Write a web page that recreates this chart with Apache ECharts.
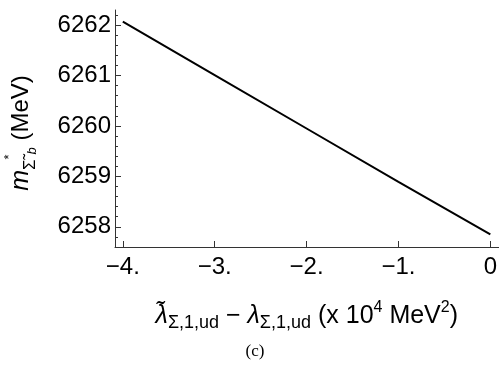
<!DOCTYPE html>
<html>
<head>
<meta charset="utf-8">
<script src="https://cdn.jsdelivr.net/npm/echarts@6/dist/echarts.min.js"></script>
<style>
  html, body { margin: 0; padding: 0; background: #fff; }
  #chart { width: 500px; height: 369px; }
</style>
</head>
<body>
<div id="chart"></div>
<script>
// data
const lambdaDiff = [-4, -3, -2, -1, 0];
const massValues = [6262.07, 6261.01, 6259.95, 6258.89, 6257.85];

// tick labels
const xTicks = [-4, -3, -2, -1, 0];
const xTickLabels = ['\u22124.', '\u22123.', '\u22122.', '\u22121.', '0'];
const yTicks = [6258, 6259, 6260, 6261, 6262];
const yMinorTicks = [];
for (let v = 62576; v <= 62622; v += 2) yMinorTicks.push(v / 10);

const axisColor = '#333';
const font = '"Liberation Sans", Arial, sans-serif';

const chart = echarts.init(document.getElementById('chart'));

const option = {
  animation: false,
  grid: { left: 115, right: 0, top: 10, bottom: 122 },
  xAxis: {
    type: 'value',
    min: -4.085,
    max: 0.09,
    axisLine: { show: true, onZero: false, lineStyle: { color: axisColor, width: 1 } },
    axisTick: { show: true, inside: true, length: 6, customValues: xTicks, lineStyle: { color: axisColor } },
    axisLabel: {
      customValues: xTicks,
      margin: 8,
      color: '#000',
      fontFamily: font,
      fontSize: 24,
      formatter: v => xTickLabels[xTicks.indexOf(Math.round(v))]
    },
    splitLine: { show: false },
    name: '{it|\u03BB\u0303}{sub|\u03A3,1,ud} \u2212 {it|\u03BB}{sub|\u03A3,1,ud} (x 10{sup|4} MeV{sup|2})',
    nameLocation: 'middle',
    nameGap: 53,
    nameTextStyle: {
      color: '#000',
      fontFamily: font,
      fontSize: 25,
      lineHeight: 32,
      rich: {
        it: { fontFamily: font, fontSize: 25, fontStyle: 'italic', lineHeight: 32 },
        sub: { fontFamily: font, fontSize: 18, lineHeight: 24, verticalAlign: 'bottom' },
        sup: { fontFamily: font, fontSize: 16, lineHeight: 16, verticalAlign: 'top' }
      }
    }
  },
  yAxis: [
    {
      type: 'value',
      min: 6257.6,
      max: 6262.3,
      axisLine: { show: true, onZero: false, lineStyle: { color: axisColor, width: 1 } },
      axisTick: { show: true, inside: true, length: 6, customValues: yTicks, lineStyle: { color: axisColor } },
      axisLabel: {
        customValues: yTicks,
        margin: 4,
        color: '#000',
        fontFamily: font,
        fontSize: 24,
        formatter: v => String(v)
      },
      splitLine: { show: false }
    },
    {
      type: 'value',
      min: 6257.6,
      max: 6262.3,
      position: 'left',
      offset: 0,
      axisLine: { show: false, onZero: false },
      axisTick: { show: true, inside: true, length: 3, customValues: yMinorTicks, lineStyle: { color: axisColor } },
      axisLabel: { show: false },
      splitLine: { show: false }
    }
  ],
  series: [
    {
      type: 'line',
      data: lambdaDiff.map((x, i) => [x, massValues[i]]),
      showSymbol: false,
      lineStyle: { color: '#000', width: 2 }
    }
  ],
  graphic: [
    {
      type: 'text',
      x: 21,
      y: 133,
      rotation: Math.PI / 2,
      style: {
        text: '{m|m}{s|\u03A3\u0303}{st|*}{b|b} (MeV)',
        fill: '#000',
        font: '24px "Liberation Sans", Arial, sans-serif',
        align: 'center',
        verticalAlign: 'middle',
        lineHeight: 36,
        rich: {
          m: { fontFamily: font, fontSize: 25, fontStyle: 'italic', lineHeight: 36 },
          s: { fontFamily: font, fontSize: 17, lineHeight: 18, verticalAlign: 'bottom' },
          st: { fontFamily: font, fontSize: 13, lineHeight: 32, verticalAlign: 'top' },
          b: { fontFamily: font, fontSize: 13, fontStyle: 'italic', lineHeight: 8, verticalAlign: 'bottom' }
        }
      }
    },
    {
      type: 'text',
      x: 255,
      y: 352,
      style: {
        text: '(c)',
        fill: '#000',
        font: '17px "Liberation Serif", "DejaVu Serif", serif',
        align: 'center',
        verticalAlign: 'middle'
      }
    }
  ]
};

chart.setOption(option);
</script>
</body>
</html>
